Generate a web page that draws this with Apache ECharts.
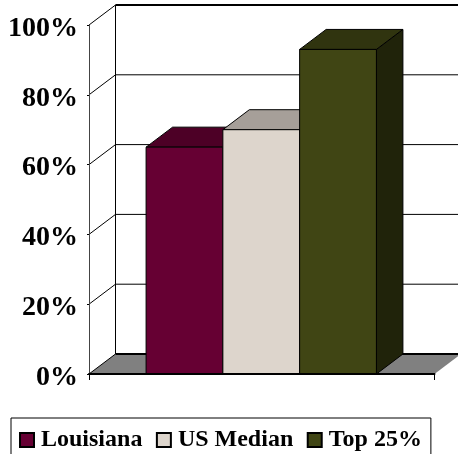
<!DOCTYPE html>
<html>
<head>
<meta charset="utf-8">
<style>html,body{margin:0;padding:0;background:#fff}#c{width:458px;height:454px}</style>
<script src="https://cdn.jsdelivr.net/npm/echarts@6/dist/echarts.min.js"></script>
</head>
<body>
<div id="c"></div>
<script>
const categories = [''];
const seriesNames = ['Louisiana', 'US Median', 'Top 25%'];
const louisiana = [65];
const usMedian = [70];
const top25 = [93];
const tickValues = [0, 20, 40, 60, 80, 100];
const frontColors = ['#660033', '#DDD5CC', '#404514'];
const topColors = ['#4D0026', '#A69F99', '#30340F'];
const sideColors = ['#33001A', '#6F6B66', '#20230A'];

const DX = 26.5, DY = -20;
const chart = echarts.init(document.getElementById('c'), null, {renderer: 'canvas'});
const FONT = '"Liberation Serif","Times New Roman",serif';

function poly(points, fill, stroke, w) {
  return {type: 'polygon', shape: {points}, style: {fill, stroke: stroke || null, lineWidth: w === undefined ? 1 : w}};
}

function wallItem(params, api) {
  const v = api.value(0);
  const cs = params.coordSys;
  const y = api.coord([0, v])[1];
  const xL = cs.x, xR = cs.x + cs.width;
  const kids = [];
  if (v === tickValues[0]) {
    kids.push(poly([[xL, y], [xL + DX, y + DY], [xR + DX, y + DY], [xR, y]], '#808080', null, 0));
  }
  const thick = v === tickValues[tickValues.length - 1] || v === tickValues[0] ? 2 : 1;
  kids.push({type: 'line', shape: {x1: xL, y1: y, x2: xL + DX, y2: y + DY}, style: {stroke: '#000', lineWidth: 1}});
  kids.push({type: 'line', shape: {x1: xL + DX, y1: y + DY, x2: xR + DX, y2: y + DY}, style: {stroke: '#000', lineWidth: thick}});
  if (v === tickValues[0]) {
    const top = api.coord([0, tickValues[tickValues.length - 1]])[1];
    kids.push({type: 'line', shape: {x1: xL + DX, y1: y + DY, x2: xL + DX, y2: top + DY}, style: {stroke: '#000', lineWidth: 1}});
  }
  return {type: 'group', children: kids};
}

function barItem(idx) {
  return function (params, api) {
    const base = api.coord([api.value(0), 0]);
    const head = api.coord([api.value(0), api.value(1)]);
    const slot = api.size([1, 0])[0] / 4.5;
    const x0 = base[0] - 1.5 * slot + idx * slot - 0.5;
    const x1 = x0 + slot;
    const y0 = base[1], y1 = head[1];
    return {type: 'group', children: [
      poly([[x1, y1], [x1 + DX, y1 + DY], [x1 + DX, y0 + DY], [x1, y0]], sideColors[idx], '#000'),
      poly([[x0, y1], [x0 + DX, y1 + DY], [x1 + DX, y1 + DY], [x1, y1]], topColors[idx], '#000'),
      poly([[x0, y1], [x1, y1], [x1, y0], [x0, y0]], frontColors[idx], '#000')
    ]};
  };
}

const barValues = [louisiana, usMedian, top25];

chart.setOption({
  animation: false,
  backgroundColor: '#fff',
  grid: {left: 89, right: 23.5, top: 25, bottom: 80, containLabel: false},
  xAxis: {
    type: 'category', data: categories, z: 5,
    axisLine: {lineStyle: {color: '#000', width: 2}},
    axisTick: {show: true, length: 6, lineStyle: {color: '#000', width: 1}},
    axisLabel: {show: false}, splitLine: {show: false}
  },
  yAxis: {
    type: 'value', min: 0, max: 100, interval: 20, z: 5,
    axisLine: {show: true, lineStyle: {color: '#444', width: 1}},
    axisTick: {show: true, length: 2, lineStyle: {color: '#000', width: 1}},
    splitLine: {show: false},
    axisLabel: {formatter: '{value}%', fontFamily: FONT, fontWeight: 'bold', fontSize: 28, color: '#000', margin: 11, verticalAlign: 'top', lineHeight: 7}
  },
  legend: {
    show: true, data: seriesNames, orient: 'horizontal', left: 11, top: 418,
    padding: [10, 9, 30, 8], itemGap: 13.5, itemWidth: 14, itemHeight: 14, icon: 'rect',
    borderColor: '#000', borderWidth: 1, backgroundColor: '#fff', selectedMode: false,
    textStyle: {fontFamily: FONT, fontWeight: 'bold', fontSize: 24, color: '#000', padding: [0, 0, 0, 2]},
    formatter: n => n
  },
  series: [
    {type: 'custom', name: 'walls', coordinateSystem: 'cartesian2d', z: 1, clip: false, silent: true,
      data: tickValues.map(v => [v]), encode: {y: 0}, renderItem: wallItem}
  ].concat(seriesNames.map((name, i) => ({
    type: 'custom', name, coordinateSystem: 'cartesian2d', z: 2 + i, clip: false, silent: true,
    itemStyle: {color: frontColors[i], borderColor: '#000', borderWidth: 1},
    data: categories.map((c, k) => [k, barValues[i][k]]),
    encode: {x: 0, y: 1},
    renderItem: barItem(i)
  })))
});
</script>
</body>
</html>
